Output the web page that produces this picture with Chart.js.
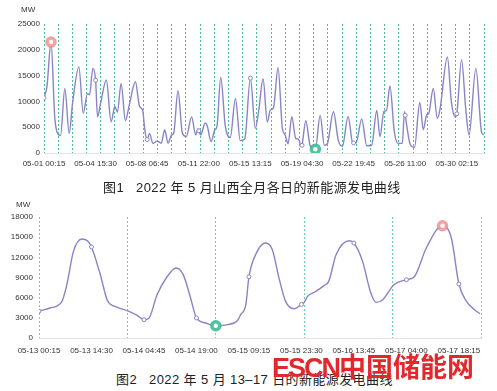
<!DOCTYPE html>
<html><head><meta charset="utf-8">
<script src="https://cdn.jsdelivr.net/npm/chart.js@4"></script>
<style>
body{margin:0;background:#fff;width:497px;height:391px;position:relative;overflow:hidden;font-family:"Liberation Sans",Arial,sans-serif}
canvas{position:absolute;left:0}
#c1{top:0}
#c2{top:200px}
.unit{position:absolute;font-size:8px;color:#333;font-family:"Liberation Sans",Arial,sans-serif}
.cap{position:absolute;font-family:"Liberation Sans","Noto Sans CJK SC",sans-serif;font-size:13px;color:#222;white-space:pre;letter-spacing:0.4px}
.wm{position:absolute;left:272px;top:350px;color:#e2282c;font-weight:bold;font-size:27px;white-space:pre;line-height:32px}
.wm .en{font-family:"Liberation Sans",Arial,sans-serif;letter-spacing:-2px}
.wm .cn{font-family:"Noto Sans CJK SC",sans-serif;letter-spacing:0px}
</style>
</head><body>
<canvas id="c1" width="497" height="175"></canvas>
<canvas id="c2" width="497" height="160"></canvas>
<div class="unit" style="left:21px;top:5px">MW</div>
<div class="unit" style="left:16px;top:200px">MW</div>
<div class="cap" style="left:103px;top:177px">图1   2022 年 5 月山西全月各日的新能源发电曲线</div>
<div class="cap" style="left:116px;top:369px">图2   2022 年 5 月 13–17 日的新能源发电曲线</div>
<div class="wm"><span class="en">ESCN</span><span class="cn">中国储能网</span></div>
<script>
// ---- Figure 1: whole May (hours since 05-01 00:00) ----
const ticks1 = ['05-01 00:15','05-04 15:30','05-08 06:45','05-11 22:00','05-15 13:15','05-19 04:30','05-22 19:45','05-26 11:00','05-30 02:15'];
const yTicks1 = [0,5000,10000,15000,20000,25000];
const time1 = [0.25,5.3,12.1,18.5,24.3,28.2,35.5,42.9,48.5,59.2,
  66.6,73.9,77.3,82.9,87.5,90.8,95.9,105.7,113.7,120.1,
  124.4,130.6,137.9,144.5,154.8,161.9,167,170.9,174.75,178.5,
  184.5,191.2,198.7,204.3,209.9,216.1,219.5,226.8,234.3,241,
  249.8,256.8,260.5,262,265.2,272.9,276.2,282.7,289,292.8,
  299.1,306.7,315.2,324,332.1,339.7,349.25,357.5,363.1,370.7,
  377.8,382.9,388.3,396,403.3,408,412.9,419.3,425.8,430.3,
  435.4,436.5,443,450.3,459.1,467.2,474.3,479.4,489.6,498,
  504.8,514.5,522.1,523.75,527.7,537.5,546,554.3,562.9,568.3,
  575.1,579.3,585.2,592.4,598.8,606.1,609.8,611,619.1,626.7,
  635.7,641.6,647.4,650.6,658.5,665.3,669.9,682.3,689,695.3,
  698.25,706.3,713.4,719,730.5,740.2,744];
const power1 = [10700,12900,21500,6800,3600,3400,12500,3800,9600,16700,
  7700,11500,11300,16400,14100,7000,9600,14150,6070,9000,
  7900,13500,6300,9300,13800,9000,8300,4300,2600,3800,
  1870,2300,1900,4500,1900,3500,3800,12050,3800,3200,
  7000,3500,4700,4300,3500,5800,5300,2200,4460,5200,
  14700,5300,3000,10500,2400,2700,14500,4780,8000,14400,
  6000,8300,8800,16550,4780,3500,1800,7040,2840,2700,
  1250,1500,6250,1400,750,7300,1500,1800,8000,2400,
  1300,7100,2000,1950,1900,6600,1400,1500,8250,3170,
  8100,8200,13000,4300,1870,1900,8000,7300,1800,1100,
  9800,4500,7400,7600,12500,6700,8500,18600,10000,7000,
  7600,18100,8500,3500,16400,4000,3500];

// ---- Figure 2: 13-17 May (hours since 05-13 00:00) ----
const ticks2 = ['05-13 00:15','05-13 14:30','05-14 04:45','05-14 19:00','05-15 09:15','05-15 23:30','05-16 13:45','05-17 04:00','05-17 18:15'];
const yTicks2 = [0,3000,6000,9000,12000,15000,18000];
const time2 = [0.25,3.25,6.4,7.8,9.6,11.9,13.4,14.5,16.9,18.85,
  21.4,24.2,26.9,28.75,30,32.3,34.8,37.5,39.4,41.4,
  43,45.5,48.25,51.4,54.1,55,56.4,57.25,59.5,61.8,
  63.6,65.4,67.2,69.5,71.5,72.25,73.15,75.4,77.7,78.9,
  80.9,84.5,85.75,88.1,90.2,91.75,93.6,96.6,100,102.2,
  105.4,109.8,112.2,114.25,116.3,118.5,120];
const power2 = [4000,4460,5360,7930,12880,14730,14470,13540,9420,5550,
  4610,4060,3360,2720,2870,6440,8930,10410,9420,5950,
  2980,2230,1830,1980,2570,3470,4950,9100,12880,14130,
  13140,8930,5450,4360,5000,5300,6190,6930,7830,8420,
  12390,14470,14130,11400,6930,5300,5700,7930,8670,9160,
  13390,16700,14880,8030,5450,4210,3600];

const LINE = '#8884c6';

function labelHour(lbl, startDay){
  const m = lbl.match(/(\d+)-(\d+) (\d+):(\d+)/);
  return (parseInt(m[2],10)-startDay)*24 + parseInt(m[3],10) + parseInt(m[4],10)/60;
}

function makeChart(id, o){
  const tickVals = o.ticks.map(l => labelHour(l, o.startDay));
  const dayVals = [];
  for (let v = o.xMin; v <= o.xMax + 1e-6; v += 24) dayVals.push(v);
  const pts = o.time.map((t,i)=>({x:t, y:o.power[i]}));
  let iMax = 0, iMin = 0;
  o.power.forEach((v,i)=>{ if (v>o.power[iMax]) iMax=i; if (v<o.power[iMin]) iMin=i; });
  const isLbl = x => tickVals.some(v => Math.abs(v-x) < 0.01);
  new Chart(document.getElementById(id), {
    type:'line',
    data:{datasets:[
      {data:[pts[iMax]], showLine:false, pointRadius:4, pointBorderWidth:3.5,
       pointBackgroundColor:'#fff', pointBorderColor:'rgba(240,130,130,0.75)', order:0},
      {data:[pts[iMin]], showLine:false, pointRadius:4, pointBorderWidth:3.5,
       pointBackgroundColor:'#fff', pointBorderColor:'rgba(50,185,140,0.85)', order:0},
      {data:pts, borderColor:LINE, borderWidth:1.4, cubicInterpolationMode:'monotone',
       pointRadius: c => (c.raw && isLbl(c.raw.x)) ? 2 : 0,
       pointBackgroundColor:'#fff', pointBorderColor:LINE, pointBorderWidth:1, order:1}
    ]},
    options:{
      responsive:false, animation:false, devicePixelRatio:1,
      layout:{padding:{left:0,right:o.rightPad,top:o.topPad,bottom:0}},
      plugins:{legend:{display:false}, tooltip:{enabled:false}},
      scales:{
        x:{type:'linear', position:'bottom', min:o.xMin, max:o.xMax,
          grid:{display:false, drawTicks:false},
          border:{display:true, color:'#e4e4e4', width:1},
          ticks:{autoSkip:false, maxRotation:0, minRotation:0, padding:o.lblPad,
            font:{size:8, family:'"Liberation Sans", Arial, sans-serif'}, color:'#333',
            callback:(v,i)=>o.ticks[i]},
          afterBuildTicks:s=>{ s.ticks = tickVals.map(v=>({value:v})); },
          afterFit:s=>{ s.height = o.bottomH; }
        },
        xd:{type:'linear', position:'bottom', min:o.xMin, max:o.xMax,
          grid:{display:true, drawTicks:false, color:o.dayColor, lineWidth:1},
          border:{display:false, dash:[2,2]},
          ticks:{display:false},
          afterBuildTicks:s=>{ s.ticks = dayVals.map(v=>({value:v})); },
          afterFit:s=>{ s.height = 0; }
        },
        y:{type:'linear', min:0, max:o.yTicks[o.yTicks.length-1],
          grid:{display:false, drawTicks:false},
          border:{display:false},
          ticks:{padding:o.yPad, font:{size:8, family:'"Liberation Sans", Arial, sans-serif'}, color:'#333',
            callback:v=>String(v)},
          afterBuildTicks:s=>{ s.ticks = o.yTicks.map(v=>({value:v})); },
          afterFit:s=>{ s.width = o.leftW; }
        }
      }
    }
  });
}

makeChart('c1', {time:time1, power:power1, ticks:ticks1, yTicks:yTicks1, startDay:1,
  xMin:0.25, xMax:744.25, leftW:44, rightPad:13, topPad:24, bottomH:22, lblPad:6, yPad:4,
  dayColor:'rgba(45,175,135,0.85)'});
makeChart('c2', {time:time2, power:power2, ticks:ticks2, yTicks:yTicks2, startDay:13,
  xMin:0.25, xMax:120.25, leftW:39, rightPad:16, topPad:17, bottomH:22, lblPad:8, yPad:6,
  dayColor:'rgba(70,190,155,0.75)'});
</script>
</body></html>
